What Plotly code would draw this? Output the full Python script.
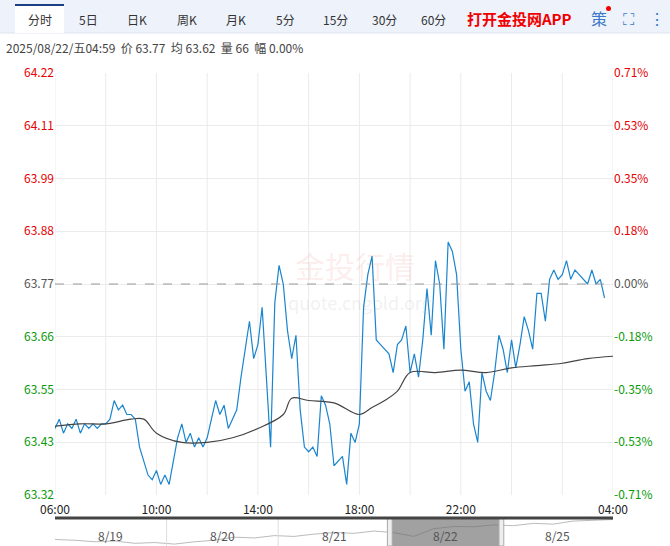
import pandas as pd
import plotly.graph_objects as go

# minute data sampled every 10 min, 06:00 (8/21) -> 04:00 (8/22)
price = [63.46, 63.48, 63.45, 63.47, 63.46, 63.48, 63.45, 63.47, 63.46, 63.47, 63.46, 63.47,
         63.47, 63.48, 63.52, 63.50, 63.51, 63.49,
         63.49, 63.48, 63.42, 63.39, 63.36, 63.35, 63.37, 63.34, 63.36, 63.34, 63.39, 63.44,
         63.47, 63.43, 63.45, 63.42, 63.44, 63.42, 63.44, 63.48, 63.52, 63.49, 63.51, 63.46,
         63.48, 63.50, 63.57, 63.63, 63.69, 63.61, 63.64, 63.72, 63.56, 63.42,
         63.73, 63.81, 63.77, 63.67, 63.61, 63.66, 63.50, 63.42, 63.41, 63.42, 63.40, 63.53,
         63.51, 63.47, 63.38, 63.39, 63.40, 63.34, 63.45, 63.43, 63.47, 63.72, 63.79, 63.83,
         63.65, 63.64, 63.63, 63.62, 63.58, 63.64, 63.65, 63.68, 63.58, 63.62, 63.57, 63.65,
         63.76, 63.66, 63.82, 63.77, 63.63, 63.86, 63.84, 63.79, 63.63, 63.54, 63.56, 63.47,
         63.43, 63.58, 63.54, 63.52, 63.58, 63.66, 63.63, 63.58, 63.65, 63.59, 63.64, 63.70,
         63.67, 63.63, 63.75, 63.75, 63.69, 63.78, 63.80, 63.78, 63.79, 63.82, 63.78, 63.80,
         63.79, 63.78, 63.77, 63.80, 63.77, 63.78, 63.74]
avg_time = ["06:00", "07:00", "08:00", "09:00", "09:30", "10:00", "11:00", "12:00", "13:00",
            "14:00", "15:00", "15:20", "16:00", "17:00", "18:00", "18:30", "19:00", "19:30",
            "20:00", "21:00", "22:00", "23:00", "00:00", "01:00", "02:00", "03:00", "04:00"]
avg_val = [63.465, 63.47, 63.47, 63.48, 63.48, 63.45, 63.43, 63.43, 63.44,
           63.46, 63.49, 63.525, 63.52, 63.515, 63.49, 63.505, 63.52, 63.54,
           63.58, 63.58, 63.585, 63.58, 63.59, 63.595, 63.60, 63.61, 63.615]
y_ticks = [64.22, 64.11, 63.99, 63.88, 63.77, 63.66, 63.55, 63.43, 63.32]
pct_ticks = ["0.71%", "0.53%", "0.35%", "0.18%", "0.00%", "-0.18%", "-0.35%", "-0.53%", "-0.71%"]
x_labels = ["06:00", "10:00", "14:00", "18:00", "22:00", "04:00"]
nav_vals = [63.22, 63.20, 63.16, 63.18, 63.12, 63.14, 63.10, 63.16, 63.20, 63.28, 63.26, 63.32,
            63.30, 63.36, 63.40, 63.38, 63.44, 63.40, 63.30, 63.50, 63.56, 63.55, 63.60, 63.58,
            63.64, 63.62, 63.70, 63.72, 63.74]
nav_days = ["8/19", "8/20", "8/21", "8/22", "8/25"]

prev_close = 63.77
t0 = pd.Timestamp("2025-08-21 06:00")
ptime = pd.date_range(t0, periods=len(price), freq="10min")
day = {True: "2025-08-21 ", False: "2025-08-22 "}
def ts(s):
    return pd.Timestamp(day[s >= "06:00"] + s)
atime = [ts(s) for s in avg_time]
lo = prev_close * (1 - 0.0071)
hi = prev_close * (1 + 0.0071)
tick_pos = [hi - i * (hi - lo) / 8 for i in range(9)]

def col(i):
    return "#e60000" if i < 4 else ("#555" if i == 4 else "#0a9a0a")

# pixel -> paper helpers (plot area x 55..613, paper height 473 px from bottom)
def px(x):
    return (x - 55) / 558
def py(y):
    return (546 - y) / 473

def label(x, y, text, size=12, color="#333", xanchor="center", xref="paper"):
    fig.add_annotation(x=x, y=y, xref=xref, yref="paper", text=text, showarrow=False,
                       xanchor=xanchor, yanchor="middle", font=dict(size=size, color=color))

fig = go.Figure()
fig.add_trace(go.Scatter(x=ptime, y=price, mode="lines", line=dict(color="#1a85cf", width=1.2),
                         hoverinfo="skip"))
fig.add_trace(go.Scatter(x=atime, y=avg_val, mode="lines", line=dict(color="#444", width=1.2, shape="spline"),
                         hoverinfo="skip"))
fig.add_trace(go.Scatter(x=list(range(len(nav_vals))), y=nav_vals, mode="lines",
                         line=dict(color="#bbb", width=1), xaxis="x3", yaxis="y3", hoverinfo="skip"))
fig.add_trace(go.Scatter(x=[t0], y=[lo], yaxis="y2", mode="markers", marker=dict(opacity=0),
                         hoverinfo="skip"))

fig.add_hline(y=prev_close, line=dict(color="#999", width=1, dash="dash"))

grid_x = pd.date_range(t0, periods=12, freq="2h")
fig.update_layout(
    width=670, height=546, showlegend=False, plot_bgcolor="white", paper_bgcolor="white",
    margin=dict(l=55, r=57, t=73, b=0, autoexpand=False),
    font=dict(family="Noto Sans CJK SC, Arial", size=12, color="#333"),
    xaxis=dict(range=[t0, t0 + pd.Timedelta(hours=22)], tickvals=[ts(s) for s in x_labels],
               ticktext=x_labels, showgrid=False, showline=False, ticks="", automargin=False,
               ticklabelstandoff=6,
               tickfont=dict(size=12, color="#222"), domain=[0, 1], anchor="y"),
    yaxis=dict(range=[lo, hi], tickvals=tick_pos, automargin=False,
               ticktext=[f"<span style='color:{col(i)}'>{v:.2f}</span>" for i, v in enumerate(y_ticks)],
               gridcolor="#ebebeb", zeroline=False, domain=[51 / 473, 1], tickfont=dict(size=12)),
    yaxis2=dict(range=[lo, hi], overlaying="y", side="right", tickvals=tick_pos, automargin=False,
                ticktext=[f"<span style='color:{col(i)}'>{v}</span>" for i, v in enumerate(pct_ticks)],
                showgrid=False, zeroline=False, tickfont=dict(size=12)),
    xaxis3=dict(domain=[0, 1], anchor="y3", range=[0, len(nav_vals) - 1], visible=False),
    yaxis3=dict(domain=[0, 28 / 473], range=[63.05, 63.78], visible=False),
)
for g in grid_x:
    fig.add_shape(type="line", x0=g, x1=g, y0=lo, y1=hi, line=dict(color="#ebebeb", width=1), layer="below")

# navigator
nav_w = (len(nav_vals) - 1) / 5
for i, d in enumerate(nav_days):
    label((i + 0.5) * nav_w, py(535), d, color="#555", xref="x3")
    if i:
        fig.add_shape(type="line", xref="x3", yref="y3", x0=i * nav_w, x1=i * nav_w, y0=63.05, y1=63.78,
                      line=dict(color="#ddd", width=1))
fig.add_shape(type="rect", xref="x3", yref="y3", x0=3 * nav_w, x1=4 * nav_w, y0=63.05, y1=63.78,
              fillcolor="rgba(110,110,110,0.65)", line=dict(width=0))
for hx in (3 * nav_w, 4 * nav_w):
    fig.add_shape(type="rect", xref="x3", yref="y3", x0=hx - 0.12, x1=hx + 0.12, y0=63.05, y1=63.78,
                  fillcolor="#eee", line=dict(color="#aaa", width=1))
fig.add_shape(type="line", xref="paper", yref="paper", x0=0, x1=1, y0=py(518), y1=py(518),
              line=dict(color="#444", width=3))

# header bar
fig.add_shape(type="rect", xref="paper", yref="paper", x0=px(0), x1=px(670),
              y0=py(33), y1=py(0), fillcolor="#edf2fb", line=dict(width=0), layer="below")
fig.add_shape(type="line", xref="paper", yref="paper", x0=px(0), x1=px(670),
              y0=py(33), y1=py(33), line=dict(color="#dde3ee", width=1))
fig.add_shape(type="rect", xref="paper", yref="paper", x0=px(15), x1=px(64),
              y0=py(33), y1=py(4), fillcolor="white", line=dict(width=0))
fig.add_shape(type="line", xref="paper", yref="paper", x0=px(15), x1=px(64),
              y0=py(5), y1=py(5), line=dict(color="#1c3f86", width=2))
tabs = [("分时", 40), ("5日", 88), ("日K", 137), ("周K", 187), ("月K", 236), ("5分", 285),
        ("15分", 335), ("30分", 384), ("60分", 433)]
for t, x_ in tabs:
    label(px(x_), py(19), t)
label(px(519), py(18), "<b>打开金投网APP</b>", size=15, color="#f00000")
label(px(599), py(18), "策", size=16, color="#3a78c8")
fig.add_shape(type="circle", xref="paper", yref="paper", x0=px(606), x1=px(611), y0=py(11), y1=py(6),
              fillcolor="#f00000", line=dict(width=0))
label(px(629), py(18), "⛶", size=16, color="#3a78c8")
label(px(657), py(18), "⋮", size=16, color="#3a78c8")
label(px(4), py(47), "2025/08/22/五04:59  价 63.77  均 63.62  量 66  幅 0.00%", color="#444", xanchor="left")
# watermark
label(px(355), py(265), "金投行情", size=30, color="rgba(230,120,110,0.15)")
label(px(360), py(302), "quote.cngold.org", size=18, color="rgba(150,150,150,0.15)")

fig.write_html("out.html", config={"displayModeBar": False},
               post_script="document.body.style.margin='0';")
